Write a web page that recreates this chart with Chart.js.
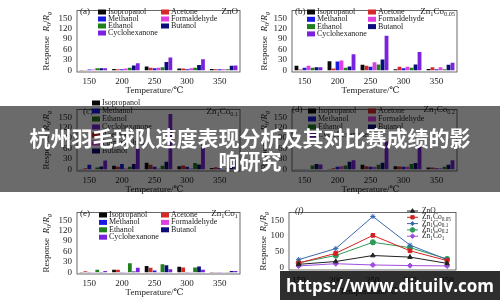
<!DOCTYPE html>
<html>
<head>
<meta charset="utf-8">
<script src="https://cdn.jsdelivr.net/npm/chart.js@4"></script>
<style>
  body { margin: 0; background: #fff; }
  #wrap { position: relative; width: 500px; height: 300px; overflow: hidden; background: #fff; }
  canvas { position: absolute; }
  #banner {
    position: absolute; left: 0; top: 106px; width: 500px; height: 86px;
    background: rgba(0, 0, 0, 0.58);
    display: flex; align-items: center; justify-content: center;
    color: #fff; font: bold 21px "Noto Sans CJK SC", sans-serif; line-height: 23px; text-align: center;
  }
  #mark {
    position: absolute; left: 280px; top: 271px; width: 220px; height: 29px;
    background: rgba(0, 0, 0, 0.82);
    color: #fff; font: bold 17px "Open Sans", sans-serif; line-height: 29px; text-align: center;
  }
</style>
</head>
<body>
<div id="wrap">
  <canvas id="pa" width="250" height="100" style="left:0;top:0"></canvas>
  <canvas id="pb" width="250" height="100" style="left:250px;top:0"></canvas>
  <canvas id="pc" width="250" height="100" style="left:0;top:99px"></canvas>
  <canvas id="pd" width="250" height="100" style="left:250px;top:99px"></canvas>
  <canvas id="pe" width="250" height="100" style="left:0;top:202px"></canvas>
  <canvas id="pf" width="250" height="100" style="left:250px;top:202px"></canvas>
  <div id="banner">杭州羽毛球队速度表现分析及其对比赛成绩的影<br>响研究</div>
  <div id="mark">https://www.dituilv.com</div>
</div>
<script>
// data
const temps = ["150", "200", "250", "300", "350"];
const tempVals = [150, 200, 250, 300, 350];
const gases = ["Isopropanol", "Acetone", "Methanol", "Formaldehyde", "Ethanol", "Butanol", "Cyclohexanone"];
const gasColors = ["#0a0a0a", "#d42a2a", "#1a1ae6", "#e040e0", "#1f7f1f", "#0c0c7c", "#7a22dd"];
const yTicksBar = [0, 30, 60, 90, 120, 150];
const yTicksLine = [0, 50, 100, 150];

// rows follow the gases order, columns follow temps
const respZnO = [
    [1, 4, 11, 5, 4],
    [1, 3, 7, 5, 3],
    [2, 3, 6, 3, 3],
    [2, 5, 7, 6, 3],
    [6, 7, 9, 7, 3],
    [6, 14, 24, 15, 13],
    [6, 20, 37, 32, 14]
];
const respCo005 = [
    [13, 26, 16, 3, 4],
    [2, 5, 13, 10, 9],
    [7, 25, 10, 6, 3],
    [13, 28, 23, 10, 9],
    [7, 7, 17, 7, 3],
    [9, 11, 31, 17, 16],
    [9, 46, 100, 53, 22]
];
const respCo01 = [
    [1, 10, 19, 9, 4],
    [3, 7, 13, 11, 6],
    [13, 15, 7, 7, 4],
    [1, 2, 2, 2, 1],
    [5, 7, 10, 18, 4],
    [8, 15, 22, 14, 10],
    [25, 60, 160, 72, 25]
];
const respCo02 = [
    [1, 1, 13, 9, 5],
    [1, 3, 9, 8, 5],
    [1, 7, 7, 7, 3],
    [1, 9, 7, 7, 3],
    [11, 11, 13, 15, 7],
    [15, 22, 19, 18, 13],
    [14, 26, 80, 64, 26]
];
const respCo1 = [
    [1, 7, 18, 16, 1],
    [3, 7, 13, 14, 1],
    [1, 1, 5, 1, 1],
    [0.5, 1, 1, 0.5, 1],
    [7, 26, 23, 14, 1],
    [1, 2, 20, 17, 4],
    [4, 13, 9, 7, 4]
];

// panel (f): cyclohexanone response of each sample
const samples = ["ZnO", "Zn1Co0.05", "Zn1Co0.1", "Zn1Co0.2", "Zn1Co1"];
const lineZnO = [10, 19, 38, 33, 13];
const lineCo005 = [14, 45, 102, 53, 22];
const lineCo01 = [25, 60, 162, 71, 25];
const lineCo02 = [15, 38, 80, 63, 27];
const lineCo1 = [5, 12, 8, 6, 5];

const serif = '"Liberation Serif", "DejaVu Serif", serif';
const ink = "#222";

// text with italic / subscript pieces
function rich(ctx, segs, x, y, size, align) {
    const parts = segs.map(([t, st]) => {
        const sub = st.includes("s");
        const font = (st.includes("i") ? "italic " : "") + (sub ? size * 0.7 : size) + "px " + serif;
        ctx.font = font;
        return { t, font, sub, w: ctx.measureText(t).width };
    });
    const total = parts.reduce((s, p) => s + p.w, 0);
    let cx = align === "right" ? x - total : align === "center" ? x - total / 2 : x;
    ctx.textAlign = "left";
    ctx.textBaseline = "middle";
    parts.forEach(p => {
        ctx.font = p.font;
        ctx.fillText(p.t, cx, y + (p.sub ? size * 0.28 : 0));
        cx += p.w;
    });
}

const yTitle = [["Response  ", ""], ["R", "i"], ["0", "s"], ["/", ""], ["R", "i"], ["g", "is"]];
const xTitle = [["Temperature/℃", ""]];

const deco = {
    id: "deco",
    afterDraw(chart, args, o) {
        const ctx = chart.ctx, a = chart.chartArea;
        ctx.save();
        ctx.strokeStyle = "#444";
        ctx.lineWidth = 0.8;
        ctx.strokeRect(a.left, a.top, a.right - a.left, a.bottom - a.top);
        ctx.fillStyle = ink;
        rich(ctx, [[o.tag, o.tagStyle || ""]], o.tagX, o.tagY, 9, "left");
        rich(ctx, o.mat, a.right - 2, o.tagY, 9, "right");

        ctx.save();
        ctx.translate(o.yTitleX, (a.top + a.bottom) / 2);
        ctx.rotate(-Math.PI / 2);
        rich(ctx, yTitle, 0, 0, 9, "center");
        ctx.restore();
        rich(ctx, xTitle, (a.left + a.right) / 2 - 4, a.bottom + o.xTitleDy, 9, "center");

        const lg = o.legend;
        lg.order.forEach((idx, k) => {
            const col = k % lg.cols, row = Math.floor(k / lg.cols);
            const x = lg.x[col], y = lg.y0 + row * lg.dy;
            const ds = chart.data.datasets[idx];
            if (lg.lines) {
                ctx.strokeStyle = ds.borderColor;
                ctx.lineWidth = 1;
                ctx.beginPath();
                ctx.moveTo(x, y);
                ctx.lineTo(x + 11, y);
                ctx.stroke();
                ctx.fillStyle = ds.backgroundColor;
                Chart.helpers.drawPoint(ctx, { pointStyle: ds.pointStyle, radius: 2.3, rotation: 0, borderWidth: 1 }, x + 5.5, y);
                ctx.fillStyle = ink;
                rich(ctx, lg.labels[idx], x + 15, y, 7.5, "left");
            } else {
                ctx.fillStyle = ds.backgroundColor;
                ctx.fillRect(x, y - 2.5, 8, 5);
                ctx.fillStyle = ink;
                rich(ctx, [[ds.label, ""]], x + 10, y, 8, "left");
            }
        });
        ctx.restore();
    }
};

function setTicks(vals) {
    return scale => { scale.ticks = vals.map(v => ({ value: v })); };
}

function barPanel(id, resp, left, right, opt) {
    return new Chart(document.getElementById(id), {
        type: "bar",
        data: {
            labels: temps,
            datasets: gases.map((g, i) => ({
                label: g,
                data: resp[i],
                backgroundColor: gasColors[i],
                borderWidth: 0
            }))
        },
        options: {
            responsive: false,
            animation: false,
            devicePixelRatio: 1,
            layout: { padding: { left: left, right: right, top: 3, bottom: 0 } },
            categoryPercentage: 0.85,
            barPercentage: 0.95,
            plugins: { legend: { display: false }, tooltip: { enabled: false }, deco: opt },
            scales: {
                x: {
                    grid: { display: false, drawTicks: false },
                    border: { display: false },
                    afterFit: s => { s.height = 28; },
                    ticks: { color: ink, font: { family: serif, size: 9 }, padding: 4, labelOffset: -4, maxRotation: 0, autoSkip: false }
                },
                y: {
                    min: -5,
                    max: 173,
                    grid: { display: false, drawTicks: false },
                    border: { display: false },
                    afterFit: s => { s.width = 30; },
                    afterBuildTicks: setTicks(yTicksBar),
                    ticks: { color: ink, font: { family: serif, size: 9 }, padding: 5, autoSkip: false }
                }
            }
        },
        plugins: [deco]
    });
}

const twoCol = [0, 1, 2, 3, 4, 5, 6];

barPanel("pa", respZnO, 47, 10, {
    tag: "(a)", tagX: 80, tagY: 12, mat: [["ZnO", ""]], yTitleX: 47, xTitleDy: 19,
    legend: { order: twoCol, cols: 2, x: [98, 161], y0: 12, dy: 7 }
});
barPanel("pb", respCo005, 12, 43, {
    tag: "(b)", tagX: 45, tagY: 12, mat: [["Zn", ""], ["1", "s"], ["Co", ""], ["0.05", "s"]], yTitleX: 15, xTitleDy: 19,
    legend: { order: twoCol, cols: 2, x: [57, 118], y0: 12, dy: 7.3 }
});
barPanel("pc", respCo01, 47, 10, {
    tag: "(c)", tagX: 83, tagY: 13, mat: [["Zn", ""], ["1", "s"], ["Co", ""], ["0.1", "s"]], yTitleX: 47, xTitleDy: 19,
    legend: { order: [0, 2, 4, 6, 1, 3, 5], cols: 1, x: [92], y0: 4, dy: 8 }
});
barPanel("pd", respCo02, 12, 43, {
    tag: "(d)", tagX: 42, tagY: 11, mat: [["Zn", ""], ["1", "s"], ["Co", ""], ["0.2", "s"]], yTitleX: 15, xTitleDy: 19,
    legend: { order: twoCol, cols: 2, x: [58, 118], y0: 12, dy: 8 }
});
barPanel("pe", respCo1, 47, 10, {
    tag: "(e)", tagX: 80, tagY: 12, mat: [["Zn", ""], ["1", "s"], ["Co", ""], ["1", "s"]], yTitleX: 47, xTitleDy: 19,
    legend: { order: twoCol, cols: 2, x: [99, 161], y0: 13, dy: 7.4 }
});

// panel (f)
const lineSets = [lineZnO, lineCo005, lineCo01, lineCo02, lineCo1];
const lineColors = ["#222222", "#d42020", "#3a68b0", "#2e9a58", "#a04ee0"];
const lineMarks = ["triangle", "rect", "star", "circle", "rectRot"];
const sampleLabels = [
    [["ZnO", ""]],
    [["Zn", ""], ["1", "s"], ["Co", ""], ["0.05", "s"]],
    [["Zn", ""], ["1", "s"], ["Co", ""], ["0.1", "s"]],
    [["Zn", ""], ["1", "s"], ["Co", ""], ["0.2", "s"]],
    [["Zn", ""], ["1", "s"], ["Co", ""], ["1", "s"]]
];

new Chart(document.getElementById("pf"), {
    type: "line",
    data: {
        datasets: lineSets.map((vals, i) => ({
            label: samples[i],
            data: tempVals.map((t, j) => ({ x: t, y: vals[j] })),
            borderColor: lineColors[i],
            backgroundColor: lineColors[i],
            borderWidth: 1,
            pointStyle: lineMarks[i],
            pointRadius: 2.6,
            pointBorderWidth: 1,
            tension: 0
        }))
    },
    options: {
        responsive: false,
        animation: false,
        devicePixelRatio: 1,
        layout: { padding: { left: 9, right: 44, top: 3, bottom: 0 } },
        plugins: {
            legend: { display: false },
            tooltip: { enabled: false },
            deco: {
                tag: "(f)", tagStyle: "i", tagX: 45, tagY: 9, mat: [["", ""]], yTitleX: 14, xTitleDy: 22,
                legend: { order: [0, 1, 2, 3, 4], cols: 1, lines: true, x: [157], y0: 9, dy: 6.3, labels: sampleLabels }
            }
        },
        scales: {
            x: {
                type: "linear",
                min: 137,
                max: 362,
                grid: { display: false, drawTicks: false },
                border: { display: false },
                afterFit: s => { s.height = 32; },
                afterBuildTicks: setTicks(tempVals),
                ticks: { color: ink, font: { family: serif, size: 9 }, padding: 5, callback: v => String(v), autoSkip: false }
            },
            y: {
                min: -8,
                max: 175,
                grid: { display: false, drawTicks: false },
                border: { display: false },
                afterFit: s => { s.width = 30; },
                afterBuildTicks: setTicks(yTicksLine),
                ticks: { color: ink, font: { family: serif, size: 9 }, padding: 5, autoSkip: false }
            }
        }
    },
    plugins: [deco]
});
</script>
</body>
</html>
